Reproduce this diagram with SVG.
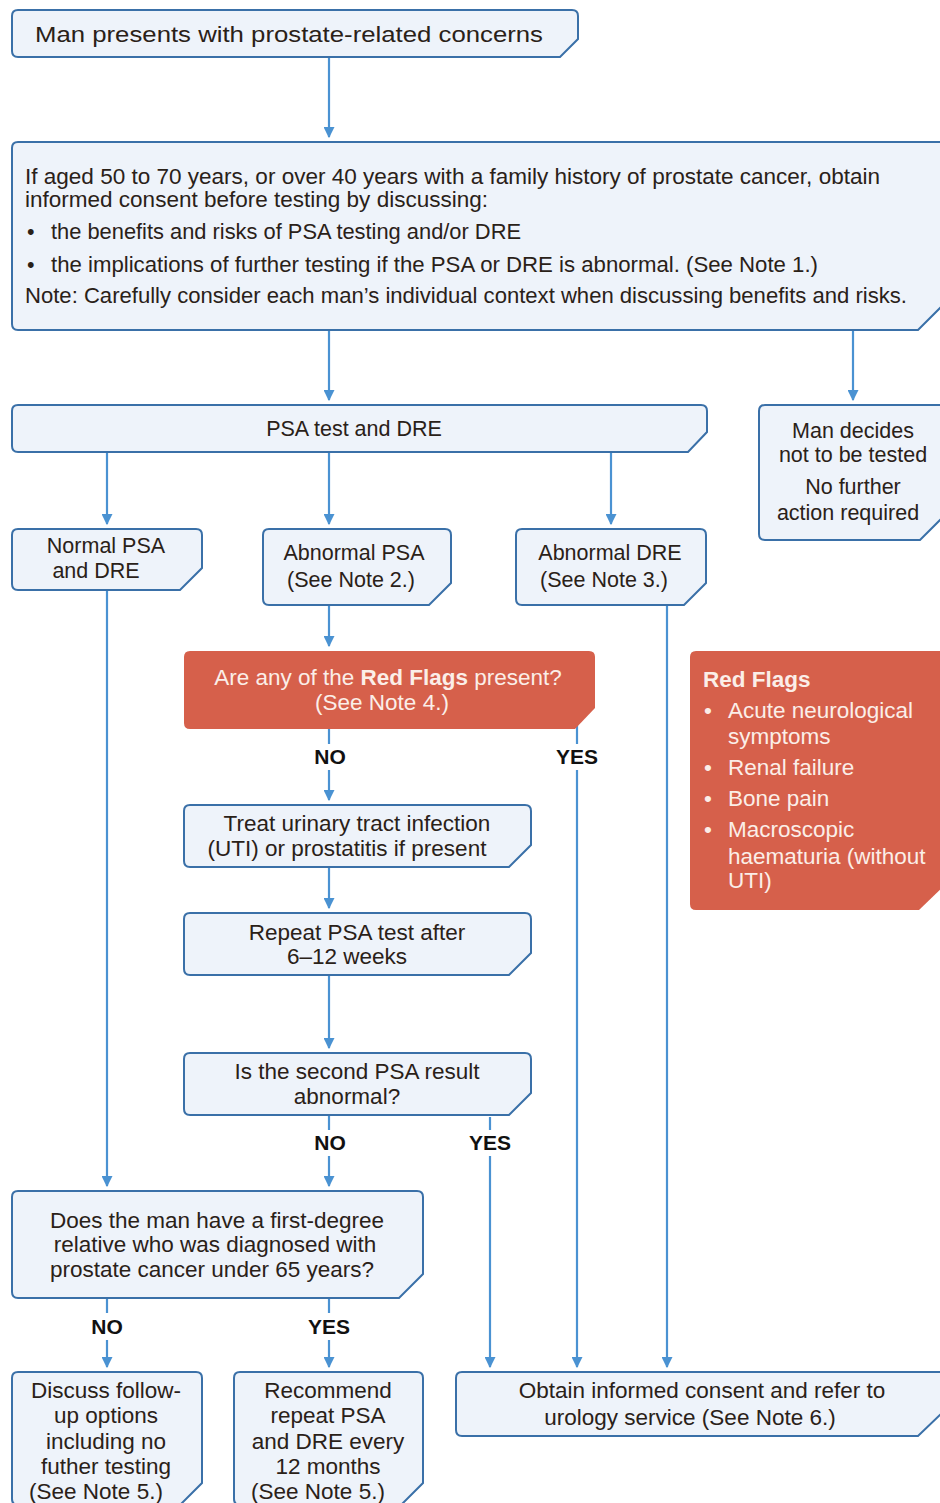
<svg xmlns="http://www.w3.org/2000/svg" width="940" height="1503" viewBox="0 0 940 1503">
<style>
.n{fill:#eef3fa;stroke:#3a70a8;stroke-width:2}
.r{fill:#d6604b;stroke:none}
.t{font-family:"Liberation Sans",Arial,sans-serif;font-size:21.5px;fill:#2a2118}
.L{font-size:22.5px}
.c{text-anchor:middle}
.w{fill:#fbeee8}
.b{font-weight:bold}
.lab{font-family:"Liberation Sans",Arial,sans-serif;font-size:21px;font-weight:bold;fill:#111;text-anchor:middle}
.e{stroke:#4a92d2;stroke-width:2.2;fill:none}
</style>
<defs>
<marker id="a" viewBox="0 0 10 10" refX="9" refY="5" markerWidth="5" markerHeight="5" orient="auto" markerUnits="strokeWidth">
<path d="M0,0 L10,5 L0,10 Z" fill="#4a92d2"/>
</marker>
</defs>
<rect width="940" height="1503" fill="#ffffff"/>

<g id="connectors">
<path class="e" d="M329,57 V137" marker-end="url(#a)"/>
<path class="e" d="M329,330 V400" marker-end="url(#a)"/>
<path class="e" d="M853,330 V400" marker-end="url(#a)"/>
<path class="e" d="M107,452 V524" marker-end="url(#a)"/>
<path class="e" d="M329,452 V524" marker-end="url(#a)"/>
<path class="e" d="M611,452 V524" marker-end="url(#a)"/>
<path class="e" d="M329,605 V646" marker-end="url(#a)"/>
<path class="e" d="M329,729 V744"/>
<path class="e" d="M329,770 V800" marker-end="url(#a)"/>
<path class="e" d="M577,714 V744"/>
<path class="e" d="M577,770 V1367" marker-end="url(#a)"/>
<path class="e" d="M329,867 V908" marker-end="url(#a)"/>
<path class="e" d="M329,975 V1048" marker-end="url(#a)"/>
<path class="e" d="M329,1115 V1130"/>
<path class="e" d="M329,1156 V1186" marker-end="url(#a)"/>
<path class="e" d="M490,1117 V1130"/>
<path class="e" d="M490,1156 V1367" marker-end="url(#a)"/>
<path class="e" d="M107,590 V1186" marker-end="url(#a)"/>
<path class="e" d="M667,605 V1367" marker-end="url(#a)"/>
<path class="e" d="M107,1298 V1313"/>
<path class="e" d="M107,1340 V1367" marker-end="url(#a)"/>
<path class="e" d="M329,1298 V1313"/>
<path class="e" d="M329,1340 V1367" marker-end="url(#a)"/>
</g>

<g id="n-start">
<path class="n" d="M18,10 H572 Q578,10 578,16 V39 L560,57 H18 Q12,57 12,51 V16 Q12,10 18,10 Z"/>
<text class="t" x="35" y="42" font-size="24" textLength="508" lengthAdjust="spacingAndGlyphs">Man presents with prostate-related concerns</text>
</g>

<g id="n-consent">
<path class="n" d="M18,142 H945 V303 L918,330 H18 Q12,330 12,324 V148 Q12,142 18,142 Z"/>
<text class="t" x="25" y="184" font-size="21" textLength="855" lengthAdjust="spacingAndGlyphs">If aged 50 to 70 years, or over 40 years with a family history of prostate cancer, obtain</text>
<text class="t" x="25" y="207" font-size="21" textLength="463" lengthAdjust="spacingAndGlyphs">informed consent before testing by discussing:</text>
<text class="t" x="27" y="239" font-size="21">•</text>
<text class="t" x="51" y="239" font-size="21" textLength="470" lengthAdjust="spacingAndGlyphs">the benefits and risks of PSA testing and/or DRE</text>
<text class="t" x="27" y="272" font-size="21">•</text>
<text class="t" x="51" y="272" font-size="21" textLength="767" lengthAdjust="spacingAndGlyphs">the implications of further testing if the PSA or DRE is abnormal. (See Note 1.)</text>
<text class="t" x="25" y="303" font-size="21" textLength="882" lengthAdjust="spacingAndGlyphs">Note: Carefully consider each man’s individual context when discussing benefits and risks.</text>
</g>

<g id="n-psa">
<path class="n" d="M18,405 H701 Q707,405 707,411 V432 L688,452 H18 Q12,452 12,446 V411 Q12,405 18,405 Z"/>
<text class="t c" x="354" y="436">PSA test and DRE</text>
</g>

<g id="n-decline">
<path class="n" d="M765,405 H945 V515 L920,540 H765 Q759,540 759,534 V411 Q759,405 765,405 Z"/>
<text class="t c" x="853" y="438">Man decides</text>
<text class="t c" x="853" y="462">not to be tested</text>
<text class="t c" x="853" y="494">No further</text>
<text class="t c" x="848" y="520">action required</text>
</g>

<g id="n-normal">
<path class="n" d="M18,529 H196 Q202,529 202,535 V568 L180,590 H18 Q12,590 12,584 V535 Q12,529 18,529 Z"/>
<text class="t c" x="106" y="553">Normal PSA</text>
<text class="t c" x="96" y="578">and DRE</text>
</g>

<g id="n-abpsa">
<path class="n" d="M269,529 H445 Q451,529 451,535 V583 L429,605 H269 Q263,605 263,599 V535 Q263,529 269,529 Z"/>
<text class="t c" x="354" y="560">Abnormal PSA</text>
<text class="t c" x="351" y="587">(See Note 2.)</text>
</g>

<g id="n-abdre">
<path class="n" d="M522,529 H700 Q706,529 706,535 V583 L684,605 H522 Q516,605 516,599 V535 Q516,529 522,529 Z"/>
<text class="t c" x="610" y="560">Abnormal DRE</text>
<text class="t c" x="604" y="587">(See Note 3.)</text>
</g>

<g id="n-redq">
<path class="r" d="M190,651 H589 Q595,651 595,657 V708 L575,729 H190 Q184,729 184,723 V657 Q184,651 190,651 Z"/>
<text class="t L c w" x="388" y="685">Are any of the <tspan class="b">Red Flags</tspan> present?</text>
<text class="t L c w" x="382" y="710">(See Note 4.)</text>
</g>

<g id="n-redflags">
<path class="r" d="M696,651 H945 V885 L919,910 H696 Q690,910 690,904 V657 Q690,651 696,651 Z"/>
<text class="t L w b" x="703" y="687">Red Flags</text>
<text class="t L w" x="704" y="718">•</text>
<text class="t L w" x="728" y="718">Acute neurological</text>
<text class="t L w" x="728" y="744">symptoms</text>
<text class="t L w" x="704" y="775">•</text>
<text class="t L w" x="728" y="775">Renal failure</text>
<text class="t L w" x="704" y="806">•</text>
<text class="t L w" x="728" y="806">Bone pain</text>
<text class="t L w" x="704" y="837">•</text>
<text class="t L w" x="728" y="837">Macroscopic</text>
<text class="t L w" x="728" y="864">haematuria (without</text>
<text class="t L w" x="728" y="888">UTI)</text>
</g>

<g id="n-uti">
<path class="n" d="M190,805 H525 Q531,805 531,811 V845 L509,867 H190 Q184,867 184,861 V811 Q184,805 190,805 Z"/>
<text class="t L c" x="357" y="831">Treat urinary tract infection</text>
<text class="t L c" x="347" y="856">(UTI) or prostatitis if present</text>
</g>

<g id="n-repeat">
<path class="n" d="M190,913 H525 Q531,913 531,919 V953 L509,975 H190 Q184,975 184,969 V919 Q184,913 190,913 Z"/>
<text class="t L c" x="357" y="940">Repeat PSA test after</text>
<text class="t L c" x="347" y="964">6–12 weeks</text>
</g>

<g id="n-second">
<path class="n" d="M190,1053 H525 Q531,1053 531,1059 V1093 L509,1115 H190 Q184,1115 184,1109 V1059 Q184,1053 190,1053 Z"/>
<text class="t L c" x="357" y="1079">Is the second PSA result</text>
<text class="t L c" x="347" y="1104">abnormal?</text>
</g>

<g id="n-family">
<path class="n" d="M18,1191 H417 Q423,1191 423,1197 V1274 L399,1298 H18 Q12,1298 12,1292 V1197 Q12,1191 18,1191 Z"/>
<text class="t L c" x="217" y="1228">Does the man have a first-degree</text>
<text class="t L c" x="215" y="1252">relative who was diagnosed with</text>
<text class="t L c" x="212" y="1277">prostate cancer under 65 years?</text>
</g>

<g id="n-discuss">
<path class="n" d="M18,1372 H196 Q202,1372 202,1378 V1483 L180,1505 H18 Q12,1505 12,1499 V1378 Q12,1372 18,1372 Z"/>
<text class="t L c" x="106" y="1398">Discuss follow-</text>
<text class="t L c" x="106" y="1423">up options</text>
<text class="t L c" x="106" y="1449">including no</text>
<text class="t L c" x="106" y="1474">futher testing</text>
<text class="t L c" x="96" y="1499">(See Note 5.)</text>
</g>

<g id="n-recommend">
<path class="n" d="M240,1372 H417 Q423,1372 423,1378 V1483 L401,1505 H240 Q234,1505 234,1499 V1378 Q234,1372 240,1372 Z"/>
<text class="t L c" x="328" y="1398">Recommend</text>
<text class="t L c" x="328" y="1423">repeat PSA</text>
<text class="t L c" x="328" y="1449">and DRE every</text>
<text class="t L c" x="328" y="1474">12 months</text>
<text class="t L c" x="318" y="1499">(See Note 5.)</text>
</g>

<g id="n-refer">
<path class="n" d="M462,1372 H945 V1410 L918,1436 H462 Q456,1436 456,1430 V1378 Q456,1372 462,1372 Z"/>
<text class="t L c" x="702" y="1398">Obtain informed consent and refer to</text>
<text class="t L c" x="690" y="1425">urology service (See Note 6.)</text>
</g>

<g id="labels">
<text class="lab" x="330" y="764">NO</text>
<text class="lab" x="577" y="764">YES</text>
<text class="lab" x="330" y="1150">NO</text>
<text class="lab" x="490" y="1150">YES</text>
<text class="lab" x="107" y="1334">NO</text>
<text class="lab" x="329" y="1334">YES</text>
</g>
</svg>
